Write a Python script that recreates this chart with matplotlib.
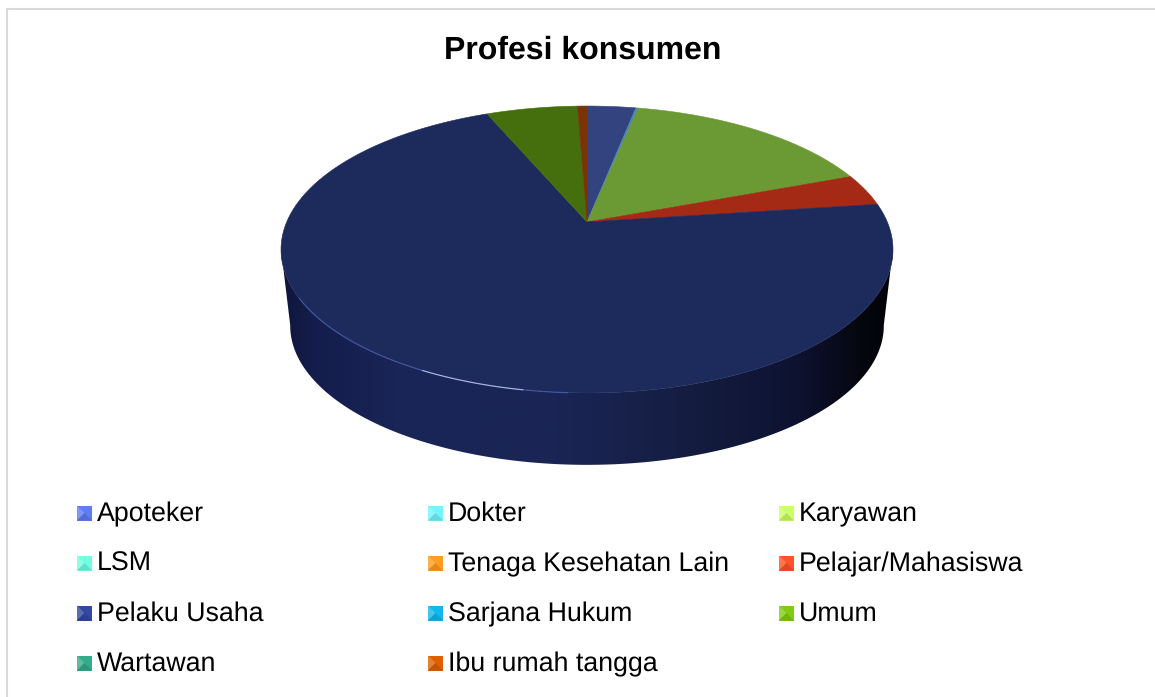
import numpy as np
import matplotlib
matplotlib.use('Agg')
import matplotlib.pyplot as plt
from matplotlib.colors import LinearSegmentedColormap, to_rgb
from matplotlib.patches import Polygon

plt.rcParams['font.family'] = ['Liberation Sans', 'DejaVu Sans']
plt.rcParams['text.hinting'] = 'no_hinting'

title = 'Profesi konsumen'
categories = ['Apoteker', 'Dokter', 'Karyawan', 'LSM', 'Tenaga Kesehatan Lain', 'Pelajar/Mahasiswa',
              'Pelaku Usaha', 'Sarjana Hukum', 'Umum', 'Wartawan', 'Ibu rumah tangga']
values = [3.1, 0.15, 16.05, 0, 0, 3.6, 70.7, 0, 5.8, 0, 0.6]
top_colors = ['#33437f', '#4a86b8', '#6b9a35', '#2fa08c', '#c07a20', '#a42a16',
              '#1c2a5c', '#1a8ab0', '#456f0d', '#1f7a60', '#7a3208']
legend_colors = ['#5f7cf0', '#73f4ff', '#ccff66', '#70ffe0', '#ff9d1e', '#ff5228',
                 '#33489f', '#12b8ec', '#80cc14', '#34ac8c', '#e06000']

# side wall shading, left to right
side_pos = [0, 0.05, 0.2, 0.45, 0.65, 0.85, 0.95, 1]
side_colors = ['#10163a', '#141d4c', '#1a2658', '#1a2556', '#151e42', '#0d1230', '#05070f', '#020308']

# pie geometry in pixels
cx, cy = 587, 222
a, b, k = 300.3, 138.2, 0.1917
low_cy, low_scale = 299, 0.97


def project(theta, centre=cy, scale=1.0):
    # theta is clockwise from the top of the disc
    u, v = np.sin(theta), np.cos(theta)
    d = 1 + k * v
    return cx + scale * a * u / d, centre - scale * b * v / d


fig = plt.figure(figsize=(11.55, 6.97), dpi=100)
ax = fig.add_axes([0, 0, 1, 1])
ax.set_xlim(0, 1155)
ax.set_ylim(697, 0)
ax.axis('off')

# chart frame
ax.plot([6.5, 6.5, 1155], [697, 8.5, 8.5], color='#d9d9d9', lw=1.5)

ax.text(583, 59, title, fontsize=23, fontweight='bold', ha='center', va='baseline', color='black')

# side wall
t = np.linspace(0, 2 * np.pi, 721)
rx, ry = project(t)
widest = np.arctan2(1, -k)
front = np.linspace(widest, 2 * np.pi - widest, 300)
fx, fy = project(front)
gx, gy = project(front, low_cy, low_scale)
outline = np.concatenate([np.c_[fx, fy], np.c_[gx[::-1], gy[::-1]]])
side_patch = Polygon(outline, closed=True, facecolor='none', edgecolor='none')
ax.add_patch(side_patch)
cmap = LinearSegmentedColormap.from_list('side', [(p, to_rgb(c)) for p, c in zip(side_pos, side_colors)])
img = ax.imshow(np.linspace(0, 1, 300)[None, :], cmap=cmap, aspect='auto', vmin=0, vmax=1,
                extent=(rx.min(), rx.max(), 480, 200), zorder=2)
img.set_clip_path(side_patch)
ax.set_xlim(0, 1155)
ax.set_ylim(697, 0)

# top slices
edges = np.cumsum([0] + values) / sum(values) * 2 * np.pi
for start, end, color in zip(edges[:-1], edges[1:], top_colors):
    if end <= start:
        continue
    arc = np.linspace(start, end, max(int((end - start) * 120), 4))
    ax_, ay_ = project(arc)
    pts = np.vstack([[cx, cy], np.c_[ax_, ay_]])
    ax.add_patch(Polygon(pts, closed=True, facecolor=color, edgecolor=color, lw=0.4, zorder=3))

# light catching the rim at the lower left
rim = np.linspace(np.radians(183), np.radians(240), 80)
hx, hy = project(rim)
ax.plot(hx, hy, color='#4a62b8', lw=0.9, alpha=0.7, zorder=4)
rim = np.linspace(np.radians(190), np.radians(207), 40)
hx, hy = project(rim)
ax.plot(hx, hy, color='#cfd8f5', lw=0.8, alpha=0.75, zorder=4)

# legend
col_x = [77, 428, 779]
row_y = [513, 563, 613, 663]
size = 15
for i, (name, color) in enumerate(zip(categories, legend_colors)):
    x = col_x[i % 3]
    y = row_y[i // 3]
    base = np.array(to_rgb(color))
    l, r, t_, bt = x, x + size, y - size / 2, y + size / 2
    mx, my = x + size / 2, y
    light = base + (1 - base) * 0.2
    dark = base * 0.88
    ax.add_patch(Polygon([(l, t_), (r, t_), (r, bt), (l, bt)], facecolor=base, edgecolor='none', zorder=5))
    ax.add_patch(Polygon([(l, t_), (mx, my), (l, bt)], facecolor=light, edgecolor='none', zorder=6))
    ax.add_patch(Polygon([(l, bt), (r, bt), (mx, my)], facecolor=dark, edgecolor='none', zorder=6))
    ax.text(x + 20, y + 8, name, fontsize=19.3, ha='left', va='baseline', color='black', zorder=5)

fig.savefig('out.png', dpi=100)
